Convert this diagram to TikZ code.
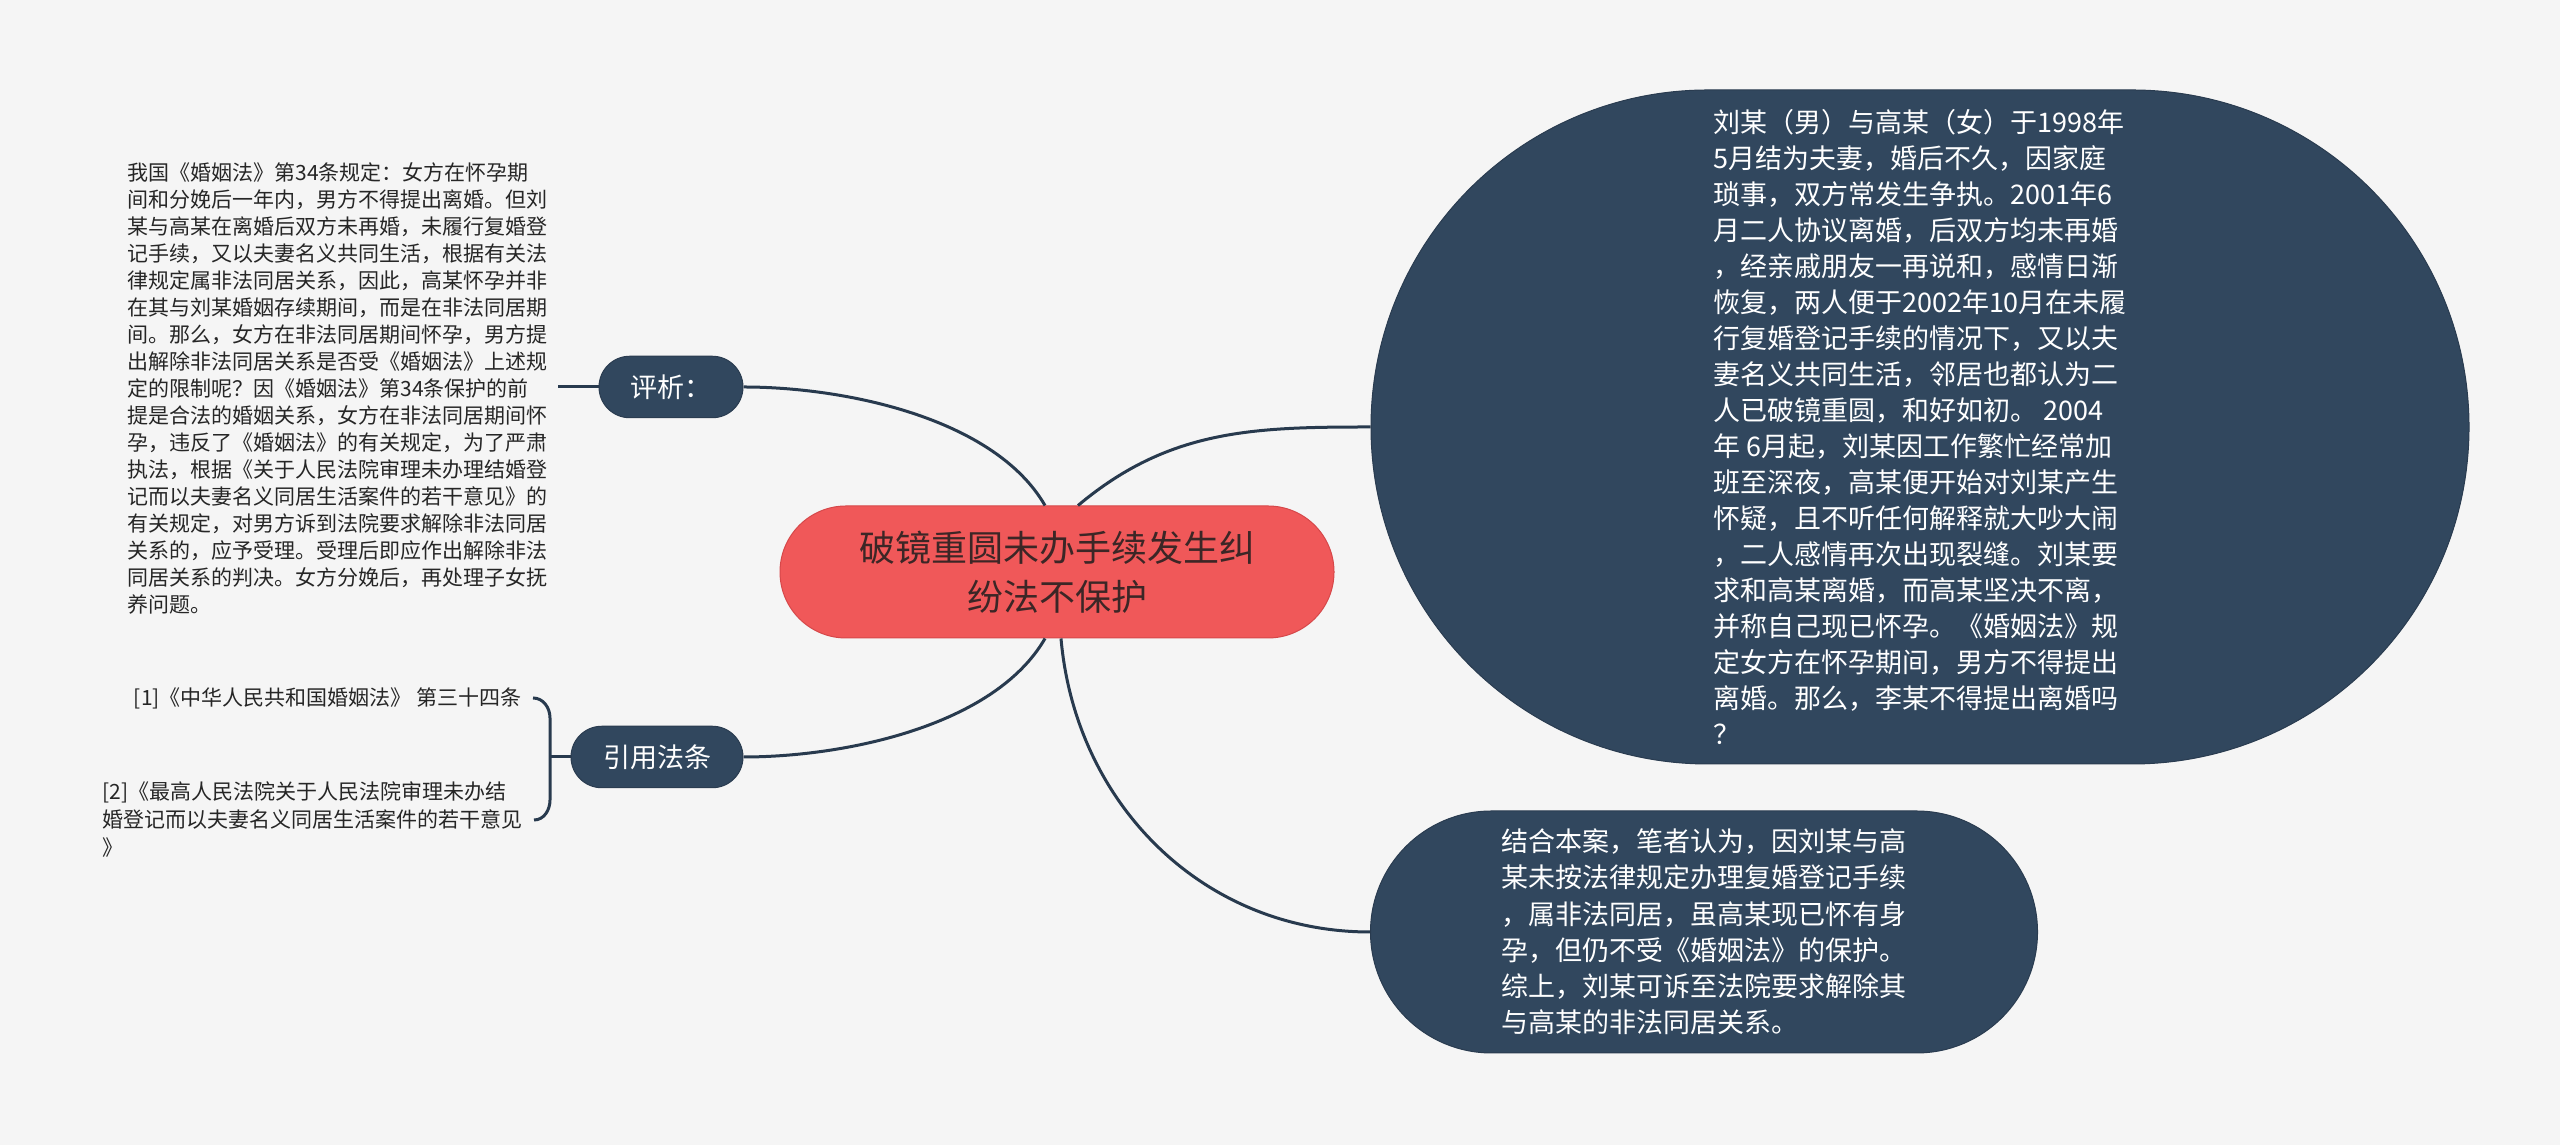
\documentclass[tikz,border=0pt]{standalone}
\usepackage{fontspec}
\setmainfont{Noto Sans CJK SC}
\usetikzlibrary{positioning}
\definecolor{bgc}{RGB}{245,245,245}
\definecolor{rootred}{RGB}{240,88,89}
\definecolor{rootedge}{RGB}{214,72,74}
\definecolor{navy}{RGB}{49,71,94}
\definecolor{linec}{RGB}{40,58,78}
\definecolor{inkc}{RGB}{60,38,38}

\begin{document}
\begin{tikzpicture}[x=0.4pt, y=0.4pt,
    mainnode/.style={fill=rootred, draw=rootedge, rounded corners=26.4pt,
      minimum width=221.6pt, minimum height=52.8pt, align=center, text=inkc,
      font=\fontsize{14.4pt}{19.6pt}\selectfont},
    branch/.style={fill=navy, draw=navy!85!black, text=white, rounded corners=12.3pt,
      minimum height=24.6pt, font=\fontsize{10.8pt}{14pt}\selectfont},
    bubble/.style={fill=navy, draw=navy!85!black, text=white, align=left,
      font=\fontsize{10.8pt}{14.4pt}\selectfont},
    plain/.style={inner sep=0pt, align=left, text=black!85,
      font=\fontsize{8.4pt}{10.8pt}\selectfont},
    conn/.style={draw=linec, line width=1.2pt}]
  \fill[bgc] (0,0) rectangle (2560,1145);
  \useasboundingbox (0,0) rectangle (2560,1145);

  % centre and branches
  \node[mainnode] (root) at (1057,573) {破镜重圆未办手续发生纠\\纷法不保护};
  \node[branch, minimum width=57.6pt] (pingxi) at (671,758) {评析：};
  \node[branch, minimum width=68.8pt] (yinyong) at (657,388) {引用法条};

  \node[bubble, minimum width=439.2pt, minimum height=269.6pt, rounded corners=134.8pt] (case) at (1920,718)
    {刘某（男）与高某（女）于1998年\\
     5月结为夫妻，婚后不久，因家庭\\
     琐事，双方常发生争执。2001年6\\
     月二人协议离婚，后双方均未再婚\\
     ，经亲戚朋友一再说和，感情日渐\\
     恢复，两人便于2002年10月在未履\\
     行复婚登记手续的情况下，又以夫\\
     妻名义共同生活，邻居也都认为二\\
     人已破镜重圆，和好如初。 2004\\
     年 6月起，刘某因工作繁忙经常加\\
     班至深夜，高某便开始对刘某产生\\
     怀疑，且不听任何解释就大吵大闹\\
     ，二人感情再次出现裂缝。刘某要\\
     求和高某离婚，而高某坚决不离，\\
     并称自己现已怀孕。《婚姻法》规\\
     定女方在怀孕期间，男方不得提出\\
     离婚。那么，李某不得提出离婚吗\\
     ？};
  \node[bubble, minimum width=266.8pt, minimum height=96.8pt, rounded corners=48.4pt,
    font=\fontsize{10.8pt}{14.5pt}\selectfont] (concl) at (1704,213)
    {结合本案，笔者认为，因刘某与高\\
     某未按法律规定办理复婚登记手续\\
     ，属非法同居，虽高某现已怀有身\\
     孕，但仍不受《婚姻法》的保护。\\
     综上，刘某可诉至法院要求解除其\\
     与高某的非法同居关系。};

  % left side texts
  \node[plain, anchor=west] (analysis) at (127,757)
    {我国《婚姻法》第34条规定：女方在怀孕期\\
     间和分娩后一年内，男方不得提出离婚。但刘\\
     某与高某在离婚后双方未再婚，未履行复婚登\\
     记手续，又以夫妻名义共同生活，根据有关法\\
     律规定属非法同居关系，因此，高某怀孕并非\\
     在其与刘某婚姻存续期间，而是在非法同居期\\
     间。那么，女方在非法同居期间怀孕，男方提\\
     出解除非法同居关系是否受《婚姻法》上述规\\
     定的限制呢？因《婚姻法》第34条保护的前\\
     提是合法的婚姻关系，女方在非法同居期间怀\\
     孕，违反了《婚姻法》的有关规定，为了严肃\\
     执法，根据《关于人民法院审理未办理结婚登\\
     记而以夫妻名义同居生活案件的若干意见》的\\
     有关规定，对男方诉到法院要求解除非法同居\\
     关系的，应予受理。受理后即应作出解除非法\\
     同居关系的判决。女方分娩后，再处理子女抚\\
     养问题。};
  \node[plain, anchor=east] (ref1) at (522,447) {[1]《中华人民共和国婚姻法》 第三十四条};
  \node[plain, anchor=west, font=\fontsize{8.4pt}{11.2pt}\selectfont] (ref2) at (102,325)
    {[2]《最高人民法院关于人民法院审理未办结\\
     婚登记而以夫妻名义同居生活案件的若干意见\\
     》};

  % connectors
  \draw[conn] ([xshift=-4.8pt]root.north) to[out=120, in=0, looseness=0.8] (pingxi.east);
  \draw[conn] ([xshift=8.4pt]root.north) to[out=40, in=180] (case.west);
  \draw[conn] ([xshift=-4.8pt]root.south) to[out=-120, in=0, looseness=0.8] (yinyong.east);
  \draw[conn] ([xshift=1.6pt]root.south) to[out=-85, in=180] (concl.west);

  \coordinate (ptail) at (558,758);
  \draw[conn] (pingxi.west) -- (ptail);

  \coordinate (brk) at (550,388);
  \draw[conn] (yinyong.west) -- (brk);
  \draw[conn] ([xshift=4.4pt]ref1.east) to[out=0, in=90] (550,427) -- (550,345)
    to[out=-90, in=0] ([xshift=4.4pt]ref2.east);
\end{tikzpicture}
\end{document}
